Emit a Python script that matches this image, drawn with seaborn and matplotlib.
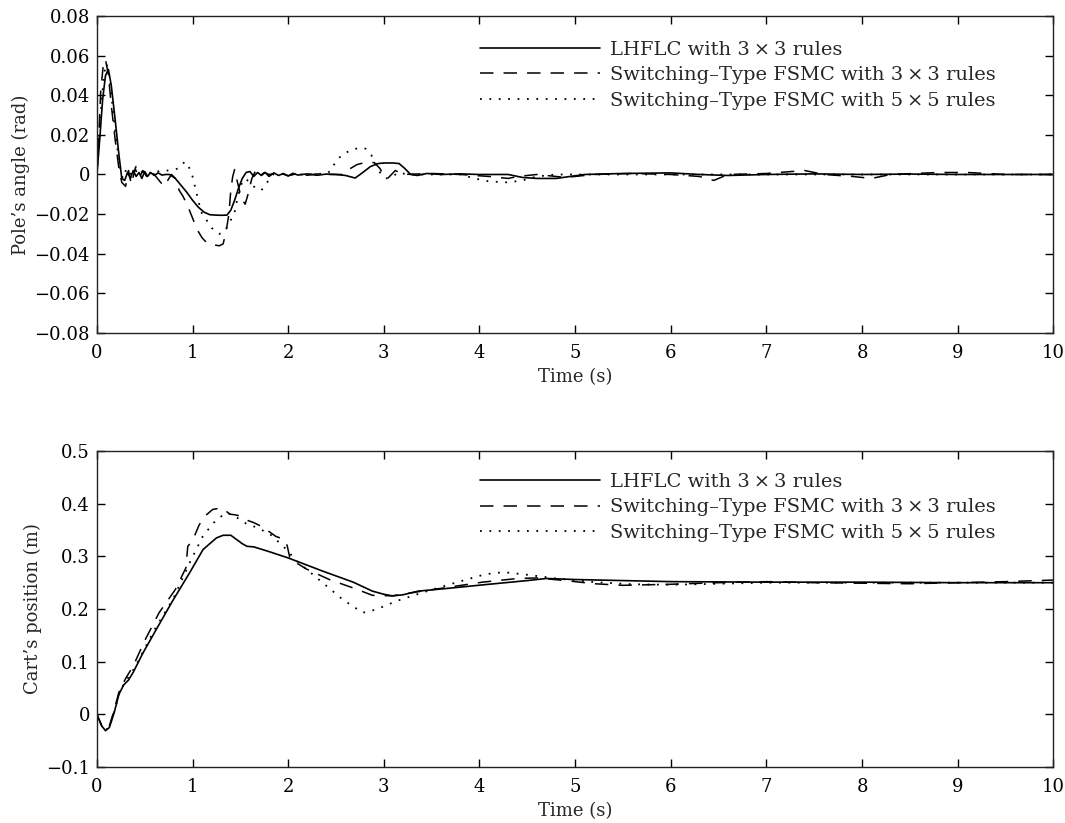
import numpy as np
import pandas as pd
import matplotlib
matplotlib.use("Agg")
import matplotlib.pyplot as plt
import seaborn as sns

# ---------------- Pole angle (rad) ----------------
t_ang_lh = [0, 0.03, 0.06, 0.09, 0.12, 0.15, 0.19, 0.23, 0.26, 0.29, 0.32, 0.35, 0.38, 0.41,
            0.44, 0.47, 0.50, 0.53, 0.56, 0.60, 0.64, 0.68, 0.72, 0.76, 0.82, 0.88, 0.94, 1.00,
            1.06, 1.12, 1.18, 1.24, 1.30, 1.36, 1.40, 1.44, 1.48, 1.52, 1.56, 1.60, 1.64, 1.68,
            1.72, 1.76, 1.80, 1.85, 1.90, 1.95, 2.00, 2.05, 2.10, 2.20, 2.30, 2.40, 2.50, 2.60,
            2.70, 2.78, 2.86, 2.94, 3.00, 3.10, 3.16, 3.22, 3.28, 3.35, 3.45, 3.60, 3.80, 4.00,
            4.30, 4.45, 4.60, 4.80, 4.95, 5.10, 5.50, 6.00, 6.30, 6.60, 7.00, 7.50, 8.00, 8.50,
            9.00, 9.50, 10.0]
ang_lh = [0.0, 0.018, 0.038, 0.050, 0.053, 0.045, 0.028, 0.010, -0.002, -0.003, 0.001, -0.002,
          0.002, -0.001, 0.001, -0.002, 0.0015, -0.001, 0.001, -0.0005, 0.0008, -0.0003, 0.0,
          0.0, -0.002, -0.0055, -0.009, -0.013, -0.0165, -0.019, -0.0203, -0.0205, -0.0206,
          -0.0205, -0.018, -0.013, -0.007, -0.002, 0.001, 0.0015, -0.001, 0.001, -0.0005, 0.001,
          -0.001, 0.0008, -0.0005, 0.0005, -0.0008, 0.0006, -0.0003, 0.0003, -0.0004, 0.0002,
          0.0, -0.0005, -0.0018, 0.001, 0.004, 0.0055, 0.0058, 0.0058, 0.0055, 0.003, 0.0,
          -0.0005, 0.0005, 0.0, 0.0003, 0.0, 0.0, -0.0015, -0.002, -0.002, -0.001, 0.0, 0.0005,
          0.0008, 0.0, -0.0005, 0.0, 0.0003, 0.0, 0.0002, 0.0, 0.0, 0.0]

t_ang_s3 = [0, 0.02, 0.04, 0.07, 0.09, 0.12, 0.15, 0.19, 0.23, 0.26, 0.30, 0.33, 0.36, 0.40,
            0.44, 0.48, 0.52, 0.56, 0.60, 0.65, 0.70, 0.74, 0.78, 0.82, 0.86, 0.90, 0.95, 1.00,
            1.05, 1.10, 1.16, 1.22, 1.28, 1.32, 1.35, 1.38, 1.40, 1.42, 1.44, 1.47, 1.51, 1.55,
            1.58, 1.62, 1.66, 1.70, 1.75, 1.80, 1.90, 2.00, 2.10, 2.20, 2.30, 2.40, 2.50, 2.58,
            2.65, 2.72, 2.80, 2.90, 2.96, 3.00, 3.04, 3.08, 3.12, 3.20, 3.50, 3.80, 4.10, 4.30,
            4.40, 4.60, 4.90, 5.20, 5.60, 6.00, 6.30, 6.45, 6.60, 7.00, 7.40, 7.60, 7.90, 8.10,
            8.30, 8.80, 9.10, 9.50, 10.0]
ang_s3 = [0.0, 0.02, 0.042, 0.057, 0.058, 0.05, 0.035, 0.018, 0.003, -0.004, -0.006, 0.002,
          -0.005, 0.003, -0.002, 0.002, -0.001, 0.002, 0.0, -0.003, -0.006, -0.003, 0.0, -0.002,
          -0.008, -0.011, -0.016, -0.022, -0.028, -0.032, -0.035, -0.0355, -0.036, -0.035,
          -0.029, -0.02, -0.008, -0.001, 0.0025, -0.004, -0.012, -0.015, -0.01, -0.002, 0.002,
          -0.001, 0.001, 0.0, 0.0008, -0.0006, 0.0005, -0.0004, 0.0003, 0.0, 0.0, 0.0, 0.003,
          0.005, 0.006, 0.006, 0.003, -0.001, -0.002, 0.0, 0.002, 0.0, 0.0005, 0.0, -0.001,
          -0.002, -0.001, 0.0, -0.0015, 0.0, 0.0005, 0.0, -0.001, -0.003, 0.0, 0.0005, 0.002,
          0.0, -0.001, -0.002, 0.0, 0.001, 0.001, 0.0, 0.0]

t_ang_s5 = [0, 0.02, 0.05, 0.08, 0.10, 0.13, 0.16, 0.20, 0.24, 0.27, 0.31, 0.36, 0.41, 0.46,
            0.52, 0.58, 0.66, 0.75, 0.85, 0.92, 0.96, 1.00, 1.04, 1.09, 1.14, 1.20, 1.28, 1.33,
            1.38, 1.44, 1.47, 1.51, 1.55, 1.60, 1.66, 1.72, 1.78, 1.84, 1.90, 2.00, 2.20, 2.40,
            2.45, 2.50, 2.57, 2.66, 2.76, 2.81, 2.87, 2.92, 2.96, 3.02, 3.08, 3.15, 3.25, 3.50,
            3.80, 3.95, 4.10, 4.30, 4.45, 4.60, 4.80, 5.50, 6.50, 8.00, 10.0]
ang_s5 = [0.0, 0.015, 0.038, 0.052, 0.056, 0.05, 0.036, 0.018, 0.004, -0.002, 0.003, 0.0,
          0.004, 0.001, 0.002, 0.0, 0.002, 0.002, 0.003, 0.0065, 0.004, -0.001, -0.009, -0.019,
          -0.0225, -0.027, -0.030, -0.029, -0.025, -0.019, -0.012, -0.005, -0.002, -0.004,
          -0.007, -0.008, -0.004, 0.0, 0.0005, 0.0, 0.0, 0.0005, 0.002, 0.007, 0.010, 0.0125,
          0.0135, 0.013, 0.0097, 0.005, 0.001, -0.002, -0.0015, 0.001, 0.0, 0.0, 0.0, -0.002,
          -0.0035, -0.004, -0.003, -0.001, 0.0, 0.0, 0.0, 0.0, 0.0]

# ---------------- Cart position (m) ----------------
t_pos_lh = [0, 0.05, 0.09, 0.13, 0.18, 0.23, 0.28, 0.33, 0.38, 0.48, 0.62, 0.79, 0.97, 1.11,
            1.25, 1.32, 1.40, 1.46, 1.52, 1.57, 1.64, 1.80, 2.00, 2.36, 2.68, 2.88, 3.00, 3.09,
            3.20, 3.36, 3.60, 4.10, 4.50, 4.70, 5.00, 5.50, 6.00, 7.00, 8.00, 9.00, 10.0]
pos_lh = [0.0, -0.022, -0.031, -0.025, 0.003, 0.038, 0.056, 0.065, 0.08, 0.116, 0.161, 0.215,
          0.269, 0.313, 0.335, 0.340, 0.340, 0.332, 0.324, 0.319, 0.318, 0.309, 0.297, 0.272,
          0.251, 0.234, 0.228, 0.225, 0.227, 0.234, 0.238, 0.247, 0.254, 0.258, 0.256, 0.254,
          0.252, 0.251, 0.251, 0.25, 0.25]

t_pos_s3 = [0, 0.05, 0.09, 0.13, 0.18, 0.23, 0.30, 0.38, 0.50, 0.65, 0.82, 0.93, 0.95, 1.00,
            1.07, 1.14, 1.21, 1.30, 1.35, 1.39, 1.44, 1.49, 1.55, 1.64, 1.73, 1.87, 1.96, 1.99,
            2.02, 2.19, 2.43, 2.71, 2.88, 3.09, 3.40, 3.70, 4.03, 4.40, 4.60, 4.90, 5.20, 5.50,
            6.00, 6.50, 7.00, 7.50, 8.00, 8.50, 9.00, 9.50, 10.0]
pos_s3 = [0.0, -0.022, -0.03, -0.022, 0.008, 0.042, 0.068, 0.092, 0.14, 0.193, 0.237, 0.278,
          0.319, 0.33, 0.36, 0.378, 0.389, 0.392, 0.386, 0.38, 0.379, 0.377, 0.37, 0.364, 0.356,
          0.338, 0.332, 0.32, 0.295, 0.276, 0.256, 0.238, 0.226, 0.225, 0.234, 0.242, 0.251,
          0.258, 0.259, 0.254, 0.248, 0.245, 0.247, 0.25, 0.252, 0.25, 0.249, 0.248, 0.25,
          0.252, 0.255]

t_pos_s5 = [0, 0.05, 0.09, 0.13, 0.18, 0.23, 0.28, 0.40, 0.60, 0.80, 0.97, 1.11, 1.25, 1.36,
            1.46, 1.57, 1.67, 1.81, 1.95, 2.09, 2.36, 2.57, 2.78, 2.92, 3.13, 3.40, 3.75, 4.06,
            4.25, 4.50, 4.80, 5.20, 5.60, 6.00, 7.00, 8.00, 9.00, 10.0]
pos_s5 = [0.0, -0.021, -0.03, -0.024, 0.004, 0.038, 0.057, 0.09, 0.16, 0.22, 0.288, 0.339,
          0.37, 0.383, 0.374, 0.361, 0.355, 0.342, 0.319, 0.291, 0.25, 0.218, 0.193, 0.199,
          0.215, 0.231, 0.25, 0.266, 0.27, 0.265, 0.258, 0.251, 0.247, 0.246, 0.25, 0.25, 0.25,
          0.25]

series_names = ["LHFLC with 3\u2009\u00d7\u20093 rules",
                "Switching\u2013Type FSMC with 3\u2009\u00d7\u20093 rules",
                "Switching\u2013Type FSMC with 5\u2009\u00d7\u20095 rules"]

x_ticks = list(range(0, 11))
ang_ticks = [0.08, 0.06, 0.04, 0.02, 0, -0.02, -0.04, -0.06, -0.08]
ang_tick_labels = ["0.08", "0.06", "0.04", "0.02", "0", "\u22120.02", "\u22120.04",
                   "\u22120.06", "\u22120.08"]
pos_ticks = [0.5, 0.4, 0.3, 0.2, 0.1, 0, -0.1]
pos_tick_labels = ["0.5", "0.4", "0.3", "0.2", "0.1", "0", "\u22120.1"]

sns.set_style("ticks")
plt.rcParams["font.family"] = ["DejaVu Serif", "DejaVu Sans"]

styles = [dict(linestyle="-", linewidth=1.2),
          dict(linestyle=(0, (8.8, 6.6)), linewidth=1.1),
          dict(linestyle=(0, (1, 4.2)), linewidth=1.3)]

fig = plt.figure(figsize=(10.65, 8.23), dpi=100)
ax1 = fig.add_axes([0.091, 0.5954, 0.898, 0.3852])
ax2 = fig.add_axes([0.091, 0.068, 0.898, 0.384])

FS = 13

def draw(ax, data, ylim, yticks, ylabels, ylabel, leg_y):
    for (t, v), name, st in zip(data, series_names, styles):
        df = pd.DataFrame({"t": t, "v": v})
        sns.lineplot(data=df, x="t", y="v", ax=ax, color="black", label=name,
                     estimator=None, sort=False, **st)
    ax.set_xlim(0, 10)
    ax.set_ylim(*ylim)
    ax.set_xticks(x_ticks)
    ax.set_xticklabels([str(x) for x in x_ticks], fontsize=FS)
    ax.set_yticks(yticks)
    ax.set_yticklabels(ylabels, fontsize=FS)
    ax.tick_params(axis="x", direction="in", length=6, width=1.0, top=True, pad=8,
                   colors="black")
    ax.tick_params(axis="y", direction="in", length=6, width=1.0, right=True, pad=5,
                   colors="black")
    for sp in ax.spines.values():
        sp.set_linewidth(1.0)
        sp.set_color("#222222")
    ax.set_xlabel("Time (s)", fontsize=FS, labelpad=4)
    ax.set_ylabel(ylabel, fontsize=FS, labelpad=3)
    ax.legend(loc="upper right", bbox_to_anchor=(0.948, leg_y), frameon=False,
              fontsize=14, handlelength=6.2, handletextpad=0.5,
              labelspacing=0.38, borderaxespad=0)

draw(ax1, [(t_ang_lh, ang_lh), (t_ang_s3, ang_s3), (t_ang_s5, ang_s5)],
     (-0.08, 0.08), ang_ticks, ang_tick_labels, "Pole\u2019s angle (rad)", 0.946)
draw(ax2, [(t_pos_lh, pos_lh), (t_pos_s3, pos_s3), (t_pos_s5, pos_s5)],
     (-0.1, 0.5), pos_ticks, pos_tick_labels, "Cart\u2019s position (m)", 0.955)

fig.savefig("out.png", dpi=100, facecolor="white")
